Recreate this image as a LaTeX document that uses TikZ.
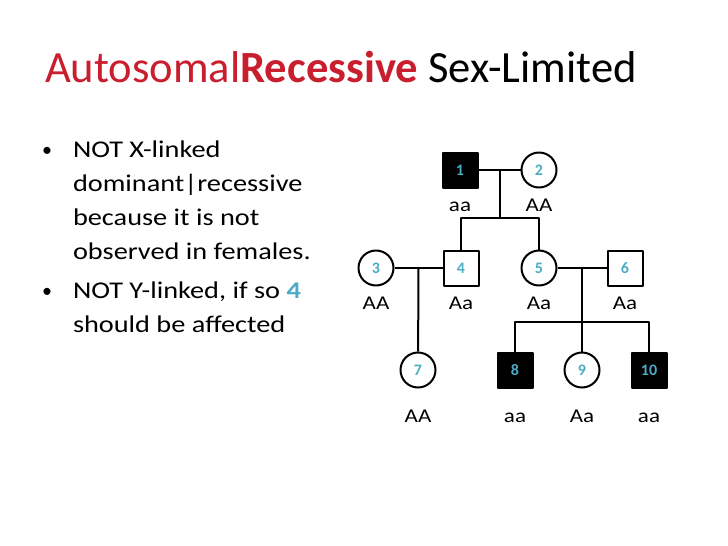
\documentclass[tikz,border=0pt]{standalone}
\usepackage{fontspec}
\setmainfont{Carlito}
\newfontfamily\bodyfont[FakeStretch=1.18]{Carlito}
\usetikzlibrary{positioning}
\definecolor{titlered}{RGB}{200,30,45}
\definecolor{numblue}{RGB}{75,172,198}
\tikzset{
	male/.style={draw, line width=2pt, rectangle, minimum size=35pt, inner sep=0pt, font=\fontsize{16}{16}\selectfont\bfseries, text=numblue},
	female/.style={male, circle},
	affected/.style={fill=black},
	geno/.style={font=\bodyfont\fontsize{19.5}{20}\selectfont, inner sep=0pt, text height=14pt, text depth=4pt},
	bullettext/.style={anchor=north west, inner sep=0pt, align=left, font=\bodyfont\fontsize{24}{34}\selectfont}
}
\begin{document}
\begin{tikzpicture}[x=1pt, y=-1pt, line width=2pt, line join=round]
				\useasboundingbox (0,0) rectangle (728,546);
				% title
				\node[anchor=base west, inner sep=0pt, font=\fontsize{44.6}{50}\selectfont] (title) at (44,82)
				{\textcolor{titlered}{Autosomal\textbf{Recessive}} Sex-Limited};
				% bullets
				\node[anchor=base, inner sep=0pt, font=\fontsize{20}{34}\selectfont] (b1) at (47,156) {\textbullet};
				\node[bullettext] (t1) at (72,139.5) {NOT X-linked\\dominant|recessive\\because it is not\\observed in females.};
				\node[anchor=base, inner sep=0pt, font=\fontsize{20}{34}\selectfont] (b2) at (47,297) {\textbullet};
				\node[bullettext] (t2) at (72,280.5) {NOT Y-linked, if so \textcolor{numblue}{\textbf{4}}\\should be affected};
				% pedigree
				\node[male, affected] (n1) at (460,170) {1};
				\node[female] (n2) at (539,170) {2};
				\node[female] (n3) at (376,268) {3};
				\node[male] (n4) at (461,268) {4};
				\node[female] (n5) at (539,268) {5};
				\node[male] (n6) at (625,268) {6};
				\node[female] (n7) at (418,370) {7};
				\node[male, affected] (n8) at (515,370) {8};
				\node[female] (n9) at (582,370) {9};
				\node[male, affected] (n10) at (649,370) {10};
				
				\node[geno, below=8pt of n1] (g1) {aa};
				\node[geno, below=8pt of n2] (g2) {AA};
				\node[geno, below=8pt of n3] (g3) {AA};
				\node[geno, below=8pt of n4] (g4) {Aa};
				\node[geno, below=8pt of n5] (g5) {Aa};
				\node[geno, below=8pt of n6] (g6) {Aa};
				\node[geno, below=19pt of n7] (g7) {AA};
				\node[geno, below=19pt of n8] (g8) {aa};
				\node[geno, below=19pt of n9] (g9) {Aa};
				\node[geno, below=19pt of n10] (g10) {aa};
				
				\path (n1) -- coordinate[midway] (m12) (n2)
				(n3) -- coordinate[midway] (m34) (n4)
				(n5) -- coordinate[midway] (m56) (n6);
				\coordinate (s12) at (502,218);
				\coordinate (s56) at (582,322);
				
				\draw (n1)--(n2)  (n3)--(n4)  (n5)--(n6);
				\draw (m12)--(m12 |- s12);
				\draw (n4)--(n4 |- s12)--(n5 |- s12)--(n5);
				\draw (m34)--(n7);
				\draw (m56)--(n9);
				\draw (n8)--(n8 |- s56)--(n10 |- s56)--(n10);
				
			\end{tikzpicture}
\end{document}
